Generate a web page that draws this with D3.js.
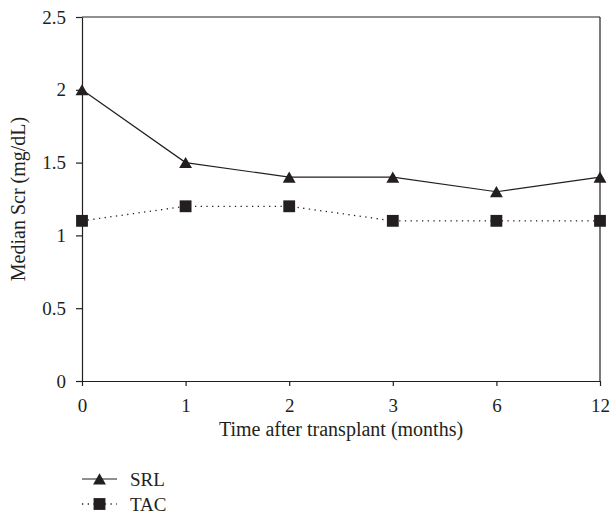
<!DOCTYPE html>
<html>
<head>
<meta charset="utf-8">
<script src="https://cdn.jsdelivr.net/npm/d3@7"></script>
<style>
  body { margin: 0; background: #fff; }
  text { font-family: "Liberation Serif", "DejaVu Serif", serif; fill: #231f20; }
</style>
</head>
<body>
<svg id="chart" width="610" height="515"></svg>
<script>
    // Months after transplant (categorical, evenly spaced)
    const months = ['0', '1', '2', '3', '6', '12'];
    const srl = [2, 1.5, 1.4, 1.4, 1.3, 1.4];
    const tac = [1.1, 1.2, 1.2, 1.1, 1.1, 1.1];
    const yTicks = [0, 0.5, 1, 1.5, 2, 2.5];

    const ink = '#231f20';
    const margin = { left: 82, right: 10, top: 17, bottom: 134 };
    const width = 610, height = 515;
    const tickFs = '19px', titleFs = '20px';

    const svg = d3.select('#chart');

    const x = d3.scalePoint()
        .domain(months)
        .range([margin.left, width - margin.right]);

    const y = d3.scaleLinear()
        .domain([0, 2.5])
        .range([height - margin.bottom, margin.top]);

    // Frame: top and right border
    svg.append('line')
        .attr('x1', margin.left).attr('x2', width - margin.right)
        .attr('y1', margin.top).attr('y2', margin.top)
        .attr('stroke', ink).attr('stroke-width', 1.2);
    svg.append('line')
        .attr('x1', width - margin.right).attr('x2', width - margin.right)
        .attr('y1', margin.top).attr('y2', height - margin.bottom)
        .attr('stroke', ink).attr('stroke-width', 1.2);

    // Axes
    const xAxis = svg.append('g')
        .attr('transform', `translate(0,${height - margin.bottom})`)
        .call(d3.axisBottom(x).tickSizeInner(5).tickSizeOuter(0).tickPadding(12.5));
    const yAxis = svg.append('g')
        .attr('transform', `translate(${margin.left},0)`)
        .call(d3.axisLeft(y).tickValues(yTicks).tickFormat(d3.format('')).tickSizeInner(6).tickSizeOuter(0).tickPadding(10));

    [xAxis, yAxis].forEach(g => {
        g.select('.domain').attr('stroke', ink).attr('stroke-width', 1.2);
        g.selectAll('.tick line').attr('stroke', ink).attr('stroke-width', 1.2);
        g.selectAll('.tick text')
            .style('font-size', tickFs)
            .style('font-family', '"Liberation Serif", serif')
            .attr('fill', ink);
    });

    // Axis titles
    svg.append('text')
        .attr('x', (margin.left + width - margin.right) / 2)
        .attr('y', 436)
        .attr('text-anchor', 'middle')
        .style('font-size', titleFs)
        .text('Time after transplant (months)');
    svg.append('text')
        .attr('transform', `translate(25,${(margin.top + height - margin.bottom) / 2}) rotate(-90)`)
        .attr('text-anchor', 'middle')
        .style('font-size', titleFs)
        .text('Median Scr (mg/dL)');

    const line = d3.line()
        .x((d, i) => x(months[i]))
        .y(d => y(d));

    // TAC dotted line
    svg.append('path')
        .datum(tac)
        .attr('d', line)
        .attr('fill', 'none')
        .attr('stroke', ink)
        .attr('stroke-width', 1.3)
        .attr('stroke-dasharray', '1.3,4.4');

    // SRL solid line
    svg.append('path')
        .datum(srl)
        .attr('d', line)
        .attr('fill', 'none')
        .attr('stroke', ink)
        .attr('stroke-width', 1.2);

    const tri = d3.symbol().type(d3.symbolTriangle).size(72);
    const sq = d3.symbol().type(d3.symbolSquare).size(140);

    svg.append('g').selectAll('path')
        .data(tac)
        .join('path')
        .attr('transform', (d, i) => `translate(${x(months[i])},${y(d)})`)
        .attr('d', sq)
        .attr('fill', ink);

    svg.append('g').selectAll('path')
        .data(srl)
        .join('path')
        .attr('transform', (d, i) => `translate(${x(months[i])},${y(d) + 1.8})`)
        .attr('d', tri)
        .attr('fill', ink);

    // Legend
    const legend = svg.append('g').attr('transform', 'translate(82,479)');
    legend.append('line')
        .attr('x1', 0).attr('x2', 35).attr('y1', 0).attr('y2', 0)
        .attr('stroke', ink).attr('stroke-width', 1.2);
    legend.append('path')
        .attr('transform', 'translate(17.5,1.8)')
        .attr('d', tri).attr('fill', ink);
    legend.append('text')
        .attr('x', 48).attr('y', 6.5)
        .style('font-size', tickFs)
        .text('SRL');

    legend.append('line')
        .attr('x1', 0).attr('x2', 35).attr('y1', 25).attr('y2', 25)
        .attr('stroke', ink).attr('stroke-width', 1.3)
        .attr('stroke-dasharray', '1.3,4.4');
    legend.append('path')
        .attr('transform', 'translate(17.5,25)')
        .attr('d', sq).attr('fill', ink);
    legend.append('text')
        .attr('x', 48).attr('y', 31.5)
        .style('font-size', tickFs)
        .text('TAC');
</script>
</body>
</html>
